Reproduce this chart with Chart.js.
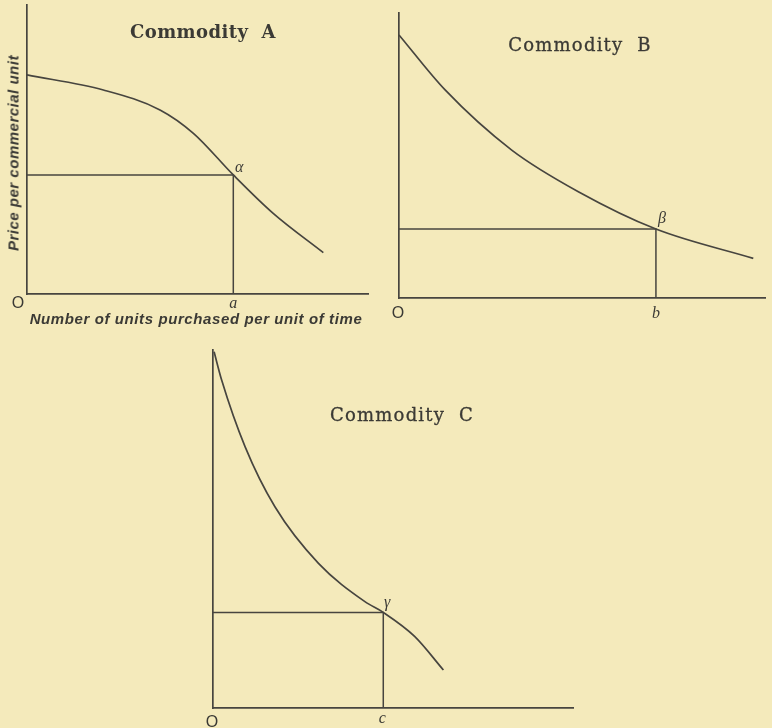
<!DOCTYPE html>
<html>
<head>
<meta charset="utf-8">
<script src="https://cdn.jsdelivr.net/npm/chart.js@4.4.0/dist/chart.umd.min.js"></script>
<style>
  body { margin: 0; background: #f4eabb; }
  #page { position: relative; width: 772px; height: 728px; overflow: hidden; background: #f4eabb; }
  .panel { position: absolute; }
  .panel canvas { position: absolute; left: 0; top: 0; }
  .txt { position: absolute; transform: translate(-50%, -50%); color: #3b3a35; white-space: nowrap; line-height: 1; }
  .title { font-family: "DejaVu Serif", serif; font-size: 18px; letter-spacing: 1.2px; -webkit-text-stroke: 0.3px #3b3a35; }
  .title.bold { font-weight: bold; letter-spacing: 0.4px; -webkit-text-stroke: 0; }
  .axis-title { font-family: "Liberation Sans", sans-serif; font-weight: bold; font-style: italic; font-size: 15px; letter-spacing: 0.6px; }
  .rot { transform: translate(-50%, -50%) rotate(-90deg); letter-spacing: 0.5px; }
  .origin { font-family: "Liberation Sans", sans-serif; font-size: 16px; }
  .greek { font-family: "Liberation Serif", serif; font-style: italic; font-size: 16px; }
</style>
</head>
<body>
<div id="page">
  <div class="panel" id="panelA" style="left:0px;top:0px;width:380px;height:330px;">
    <canvas id="chartA" width="380" height="330"></canvas>
    <div class="txt title bold" style="left:203px;top:32px;">Commodity&nbsp;&nbsp;A</div>
    <div class="txt axis-title rot" style="left:13px;top:153px;">Price per commercial unit</div>
    <div class="txt axis-title" style="left:196px;top:318px;">Number of units purchased per unit of time</div>
  </div>
  <div class="panel" id="panelB" style="left:380px;top:0px;width:392px;height:330px;">
    <canvas id="chartB" width="392" height="330"></canvas>
    <div class="txt title" style="left:200px;top:45px;">Commodity&nbsp;&nbsp;B</div>
  </div>
  <div class="panel" id="panelC" style="left:180px;top:330px;width:400px;height:398px;">
    <canvas id="chartC" width="400" height="398"></canvas>
    <div class="txt title" style="left:222px;top:85px;">Commodity&nbsp;&nbsp;C</div>
  </div>
</div>
<script>
const INK = "#47453f";

// Commodity A: quantity bought vs price (abstract units, 0-100)
const qtyA = [0, 22.4, 39, 48.8, 60.5, 72.2, 86.9];
const priceA = [75.8, 70.6, 63.7, 55.6, 41.2, 27.9, 14.3];
const markA = { x: 60.5, y: 41.2 };

// Commodity B
const qtyB = [0, 12.6, 30.8, 49, 70.2, 96.8];
const priceB = [92.3, 73, 51.9, 37.3, 24.2, 13.9];
const markB = { x: 70.2, y: 24.2 };

// Commodity C
const qtyC = [0.3, 2.4, 8.9, 17.2, 29.3, 42.2, 47.3, 56, 64];
const priceC = [99.5, 91.6, 73, 56.2, 40.4, 29.7, 26.7, 20, 10.6];
const markC = { x: 47.3, y: 26.7 };

function demandChart(id, qty, price, mark, pad) {
  return new Chart(document.getElementById(id), {
    type: "line",
    data: {
      datasets: [
        {
          data: qty.map((q, i) => ({ x: q, y: price[i] })),
          borderColor: INK,
          borderWidth: 1.7,
          pointRadius: 0,
          cubicInterpolationMode: "monotone",
          clip: false,
        },
        {
          // the quantity/price rectangle under the marked point
          data: [{ x: 0, y: mark.y }, { x: mark.x, y: mark.y }, { x: mark.x, y: 0 }],
          borderColor: INK,
          borderWidth: 1.5,
          pointRadius: 0,
          tension: 0,
          clip: false,
        },
      ],
    },
    options: {
      responsive: false,
      animation: false,
      events: [],
      layout: { padding: pad },
      plugins: { legend: { display: false }, tooltip: { enabled: false } },
      scales: {
        x: {
          type: "linear", min: 0, max: 100,
          ticks: { display: false }, grid: { display: false },
          border: { color: INK, width: 1.7 },
          afterFit: (s) => { s.height = 0; },
        },
        y: {
          type: "linear", min: 0, max: 100,
          ticks: { display: false }, grid: { display: false },
          border: { color: INK, width: 1.7 },
          afterFit: (s) => { s.width = 0; },
        },
      },
    },
  });
}

function label(panelId, chart, text, cls, xv, yv, dx, dy) {
  const el = document.createElement("div");
  el.className = "txt " + cls;
  el.textContent = text;
  el.style.left = chart.scales.x.getPixelForValue(xv) + dx + "px";
  el.style.top = chart.scales.y.getPixelForValue(yv) + dy + "px";
  document.getElementById(panelId).appendChild(el);
}

const chartA = demandChart("chartA", qtyA, priceA, markA, { left: 27, top: 5, right: 12, bottom: 36 });
const chartB = demandChart("chartB", qtyB, priceB, markB, { left: 19, top: 13, right: 7, bottom: 32 });
const chartC = demandChart("chartC", qtyC, priceC, markC, { left: 33, top: 20, right: 7, bottom: 20 });

label("panelA", chartA, "O", "origin", 0, 0, -9, 9);
label("panelA", chartA, "α", "greek", markA.x, markA.y, 6, -8);
label("panelA", chartA, "a", "greek", markA.x, 0, 0, 9);

label("panelB", chartB, "O", "origin", 0, 0, -1, 15);
label("panelB", chartB, "β", "greek", markB.x, markB.y, 6, -11);
label("panelB", chartB, "b", "greek", markB.x, 0, 0, 15);

label("panelC", chartC, "O", "origin", 0, 0, -1, 14);
label("panelC", chartC, "γ", "greek", markC.x, markC.y, 4, -10);
label("panelC", chartC, "c", "greek", markC.x, 0, -1, 10);
</script>
</body>
</html>
